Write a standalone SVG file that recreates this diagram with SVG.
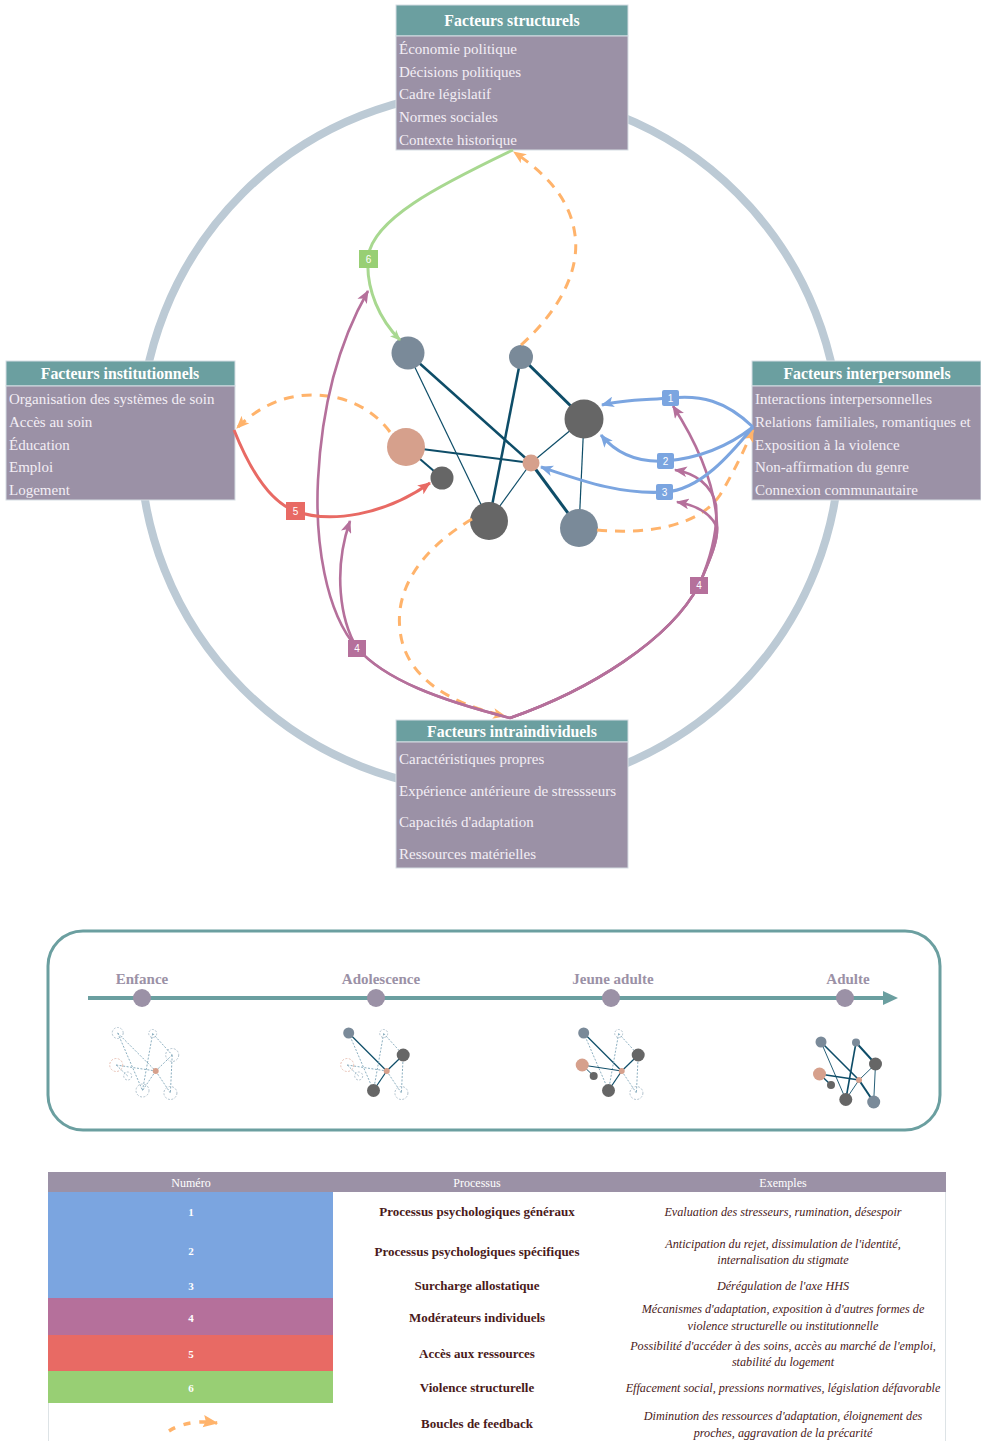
<svg xmlns="http://www.w3.org/2000/svg" width="981" height="1441" viewBox="0 0 981 1441">
<defs>
<style>
.hdr{fill:#6b9fa0;stroke:#d5dde3;stroke-width:1}
.body{fill:#9b91a6;stroke:#d5dde3;stroke-width:1}
.ht{font-family:"Liberation Serif",serif;font-weight:bold;font-size:15.8px;fill:#ffffff;text-anchor:middle}
.it{font-family:"Liberation Serif",serif;font-size:15px;fill:#f3eef5}
.e{stroke:#0e4d68;fill:none}
.slate{fill:#7a8a99}
.dark{fill:#666666}
.salmon{fill:#d6a08c}
.blue{stroke:#7ba5e0;stroke-width:3;fill:none}
.purple{stroke:#b5709b;stroke-width:2.6;fill:none}
.red{stroke:#e86a64;stroke-width:3;fill:none}
.green{stroke:#a8d890;stroke-width:3;fill:none}
.fb{stroke:#ffb36b;stroke-width:3;fill:none;stroke-dasharray:10,8}
.lbl{font-family:"Liberation Sans",sans-serif;font-size:10px;fill:#ffffff;text-anchor:middle}
.stage{font-family:"Liberation Serif",serif;font-weight:bold;font-size:15px;fill:#9b91a6;text-anchor:middle}
.de{stroke:#6f9ab0;stroke-width:0.8;stroke-dasharray:2,1.5;fill:none}
.se{stroke:#0e4d68;fill:none}
.dn{fill:none;stroke:#9fb4c2;stroke-width:0.8;stroke-dasharray:2,1.5}
.dns{fill:none;stroke:#e2b3a3;stroke-width:0.8;stroke-dasharray:2,1.5}
.th{font-family:"Liberation Serif",serif;font-size:12px;fill:#ffffff;text-anchor:middle}
.num{font-family:"Liberation Serif",serif;font-weight:bold;font-size:11px;fill:#ffffff;text-anchor:middle}
.proc{font-family:"Liberation Serif",serif;font-weight:bold;font-size:13px;fill:#4a1a1a;text-anchor:middle}
.ex{font-family:"Liberation Serif",serif;font-style:italic;font-size:12.2px;fill:#4a1a1a;text-anchor:middle}
</style>
<marker id="mBlue" viewBox="0 0 12 10" refX="11" refY="5" markerWidth="13" markerHeight="11" markerUnits="userSpaceOnUse" orient="auto"><path d="M0,0 L12,5 L0,10 L3,5 z" fill="#7ba5e0"/></marker>
<marker id="mPurple" viewBox="0 0 12 10" refX="11" refY="5" markerWidth="13" markerHeight="11" markerUnits="userSpaceOnUse" orient="auto"><path d="M0,0 L12,5 L0,10 L3,5 z" fill="#b5709b"/></marker>
<marker id="mRed" viewBox="0 0 12 10" refX="11" refY="5" markerWidth="13" markerHeight="11" markerUnits="userSpaceOnUse" orient="auto"><path d="M0,0 L12,5 L0,10 L3,5 z" fill="#e86a64"/></marker>
<marker id="mGreen" viewBox="0 0 12 10" refX="11" refY="5" markerWidth="11" markerHeight="9" markerUnits="userSpaceOnUse" orient="auto"><path d="M0,0 L12,5 L0,10 L3,5 z" fill="#a8d890"/></marker>
<marker id="mOrange" viewBox="0 0 12 10" refX="11" refY="5" markerWidth="13" markerHeight="11" markerUnits="userSpaceOnUse" orient="auto"><path d="M0,0 L12,5 L0,10 L3,5 z" fill="#ffb36b"/></marker>
<marker id="mOrangeBig" viewBox="0 0 12 10" refX="11" refY="5" markerWidth="15" markerHeight="14" markerUnits="userSpaceOnUse" orient="auto"><path d="M0,0 L12,5 L0,10 L2,5 z" fill="#ffb36b"/></marker>
</defs>
<rect width="981" height="1441" fill="#ffffff"/>

<!-- big circle -->
<circle id="ring" cx="490" cy="441" r="350" fill="none" stroke="#bccad5" stroke-width="8"/>

<!-- network edges -->
<g id="network-edges">
<line class="e" x1="408" y1="353" x2="531" y2="463" stroke-width="2.5"/>
<line class="e" x1="408" y1="353" x2="489" y2="521" stroke-width="1.2"/>
<line class="e" x1="521" y1="357" x2="489" y2="521" stroke-width="2.5"/>
<line class="e" x1="521" y1="357" x2="584" y2="419" stroke-width="3"/>
<line class="e" x1="584" y1="419" x2="531" y2="463" stroke-width="1.2"/>
<line class="e" x1="584" y1="419" x2="579" y2="528" stroke-width="1.2"/>
<line class="e" x1="406" y1="447" x2="531" y2="463" stroke-width="2"/>
<line class="e" x1="406" y1="447" x2="442" y2="478" stroke-width="2"/>
<line class="e" x1="531" y1="463" x2="489" y2="521" stroke-width="1.2"/>
<line class="e" x1="531" y1="463" x2="579" y2="528" stroke-width="3"/>
</g>
<g id="network-nodes">
<circle id="n1" class="slate" cx="408" cy="353" r="16.5"/>
<circle id="n2" class="slate" cx="521" cy="357" r="12"/>
<circle id="n3" class="dark" cx="584" cy="419" r="19.5"/>
<circle id="n4" class="salmon" cx="406" cy="447" r="19"/>
<circle id="n5" class="dark" cx="442" cy="478" r="11.5"/>
<circle id="n6" class="salmon" cx="531" cy="463" r="8.5"/>
<circle id="n7" class="dark" cx="489" cy="521" r="19"/>
<circle id="n8" class="slate" cx="579" cy="528" r="19"/>
</g>

<!-- factor boxes -->
<g id="box-structurels">
<rect class="hdr" x="396" y="5" width="232" height="31"/>
<rect class="body" x="396" y="36" width="232" height="114"/>
<text class="ht" x="512" y="26">Facteurs structurels</text>
<text class="it" x="399" y="54">Économie politique</text>
<text class="it" x="399" y="77">Décisions politiques</text>
<text class="it" x="399" y="99">Cadre législatif</text>
<text class="it" x="399" y="122">Normes sociales</text>
<text class="it" x="399" y="145">Contexte historique</text>
</g>
<g id="box-institutionnels">
<rect class="hdr" x="6" y="361" width="229" height="25"/>
<rect class="body" x="6" y="386" width="229" height="114"/>
<text class="ht" x="120" y="379">Facteurs institutionnels</text>
<text class="it" x="9" y="404">Organisation des systèmes de soin</text>
<text class="it" x="9" y="427">Accès au soin</text>
<text class="it" x="9" y="450">Éducation</text>
<text class="it" x="9" y="472">Emploi</text>
<text class="it" x="9" y="495">Logement</text>
</g>
<g id="box-interpersonnels">
<rect class="hdr" x="752" y="361" width="229" height="25"/>
<rect class="body" x="752" y="386" width="229" height="114"/>
<text class="ht" x="867" y="379">Facteurs interpersonnels</text>
<text class="it" x="755" y="404">Interactions interpersonnelles</text>
<text class="it" x="755" y="427">Relations familiales, romantiques et</text>
<text class="it" x="755" y="450">Exposition à la violence</text>
<text class="it" x="755" y="472">Non-affirmation du genre</text>
<text class="it" x="755" y="495">Connexion communautaire</text>
</g>
<g id="box-intraindividuels">
<rect class="hdr" x="396" y="720" width="232" height="22"/>
<rect class="body" x="396" y="742" width="232" height="126"/>
<text class="ht" x="512" y="737">Facteurs intraindividuels</text>
<text class="it" x="399" y="764">Caractéristiques propres</text>
<text class="it" x="399" y="796">Expérience antérieure de stressseurs</text>
<text class="it" x="399" y="827">Capacités d'adaptation</text>
<text class="it" x="399" y="859">Ressources matérielles</text>
</g>

<!-- connectors -->
<g id="connectors">
<path class="fb" d="M521,345 C560,310 580,270 575,235 C570,195 540,170 514,152" marker-end="url(#mOrange)"/>
<path class="fb" d="M390,432 C372,408 345,395 312,395 C280,395 255,410 237,428" marker-end="url(#mOrange)"/>
<path class="fb" d="M472,519 C420,550 395,590 400,630 C405,680 455,705 505,716" marker-end="url(#mOrange)"/>
<path class="fb" d="M597,530 C650,535 700,525 720,495 C735,470 745,448 753,430" marker-end="url(#mOrange)"/>

<path class="green" d="M513,150 C440,185 370,220 368,259 C366,290 380,320 400,340" marker-end="url(#mGreen)"/>

<path class="purple" d="M510,718 C440,700 385,680 357,648 C325,612 315,540 318,480 C322,400 340,340 368,291" marker-end="url(#mPurple)"/>
<path class="purple" d="M510,718 C440,700 385,680 357,648 C340,620 333,570 350,521" marker-end="url(#mPurple)"/>
<path class="purple" d="M510,718 C590,690 670,640 699,585 C712,555 718,540 717,525 C715,480 695,440 673,406" marker-end="url(#mPurple)"/>
<path class="purple" d="M510,718 C590,690 670,640 699,585 C712,555 718,530 716,505 C712,485 695,473 675,470" marker-end="url(#mPurple)"/>
<path class="purple" d="M510,718 C590,690 670,640 699,585 C712,555 718,540 717,527 C710,512 695,505 677,502" marker-end="url(#mPurple)"/>

<path class="red" d="M234,430 C250,470 270,502 295,511 C330,524 385,515 430,483" marker-end="url(#mRed)"/>

<path class="blue" d="M753,427 C725,400 700,395 671,398 C645,400 620,400 602,405" marker-end="url(#mBlue)"/>
<path class="blue" d="M753,427 C730,445 700,458 666,461 C635,463 615,452 601,435" marker-end="url(#mBlue)"/>
<path class="blue" d="M753,427 C730,455 700,490 665,492 C620,495 580,480 541,467" marker-end="url(#mBlue)"/>

<rect x="662" y="390" width="17" height="16" rx="2" fill="#7ba5e0"/><text class="lbl" x="670.5" y="402">1</text>
<rect x="657" y="453" width="17" height="16" rx="2" fill="#7ba5e0"/><text class="lbl" x="665.5" y="465">2</text>
<rect x="656" y="484" width="17" height="16" rx="2" fill="#7ba5e0"/><text class="lbl" x="664.5" y="496">3</text>
<rect x="690" y="577" width="18" height="17" fill="#b5709b"/><text class="lbl" x="699" y="589">4</text>
<rect x="348" y="640" width="18" height="17" fill="#b5709b"/><text class="lbl" x="357" y="652">4</text>
<rect x="286" y="502" width="19" height="18" fill="#e86a64"/><text class="lbl" x="295.5" y="515">5</text>
<rect x="359" y="250" width="19" height="18" fill="#98cf74"/><text class="lbl" x="368.5" y="263">6</text>
</g>

<!-- timeline -->
<g id="timeline">
<rect x="48" y="931" width="892" height="199" rx="35" fill="#ffffff" stroke="#6b9fa0" stroke-width="3"/>
<line x1="88" y1="998" x2="885" y2="998" stroke="#6b9fa0" stroke-width="4"/>
<polygon points="883,991 898,998 883,1005" fill="#6b9fa0"/>
<circle cx="142" cy="998" r="9" fill="#9b91a6"/>
<circle cx="376" cy="998" r="9" fill="#9b91a6"/>
<circle cx="611" cy="998" r="9" fill="#9b91a6"/>
<circle cx="845" cy="998" r="9" fill="#9b91a6"/>
<text class="stage" x="142" y="984">Enfance</text>
<text class="stage" x="381" y="984">Adolescence</text>
<text class="stage" x="613" y="984">Jeune adulte</text>
<text class="stage" x="848" y="984">Adulte</text>
</g>

<g id="stage-enfance" transform="translate(155.7,1071)">
<line class="de" x1="-38" y1="-38" x2="0" y2="0"/>
<line class="de" x1="-38" y1="-38" x2="-13.2" y2="19.5"/>
<line class="de" x1="-3" y1="-37.5" x2="-13.2" y2="19.5"/>
<line class="de" x1="-3" y1="-37.5" x2="16.5" y2="-16"/>
<line class="de" x1="16.5" y1="-16" x2="0" y2="0"/>
<line class="de" x1="16.5" y1="-16" x2="14.7" y2="22"/>
<line class="de" x1="-39.5" y1="-6" x2="0" y2="0"/>
<line class="de" x1="-39.5" y1="-6" x2="-28" y2="5"/>
<line class="de" x1="0" y1="0" x2="-13.2" y2="19.5"/>
<line class="de" x1="0" y1="0" x2="14.7" y2="22"/>
<circle class="dn" cx="-38" cy="-38" r="5.5" fill="#fff"/>
<circle class="dn" cx="-3" cy="-37.5" r="4"/>
<circle class="dn" cx="16.5" cy="-16" r="6.5"/>
<circle class="dns" cx="-39.5" cy="-6" r="6.5"/>
<circle class="dn" cx="-28" cy="5" r="4"/>
<circle class="dn" cx="-13.2" cy="19.5" r="6.5"/>
<circle class="dn" cx="14.7" cy="22" r="6.5"/>
<circle class="salmon" cx="0" cy="0" r="3"/>
</g>

<g id="stage-adolescence" transform="translate(386.7,1071)">
<line class="se" x1="-38" y1="-38" x2="0" y2="0" stroke-width="1.2"/>
<line class="de" x1="-38" y1="-38" x2="-13.2" y2="19.5"/>
<line class="de" x1="-3" y1="-37.5" x2="-13.2" y2="19.5"/>
<line class="de" x1="-3" y1="-37.5" x2="16.5" y2="-16"/>
<line class="se" x1="16.5" y1="-16" x2="0" y2="0" stroke-width="1.2"/>
<line class="de" x1="16.5" y1="-16" x2="14.7" y2="22"/>
<line class="de" x1="-39.5" y1="-6" x2="0" y2="0"/>
<line class="de" x1="-39.5" y1="-6" x2="-28" y2="5"/>
<line class="se" x1="0" y1="0" x2="-13.2" y2="19.5" stroke-width="1.2"/>
<line class="de" x1="0" y1="0" x2="14.7" y2="22"/>
<circle class="slate" cx="-38" cy="-38" r="5.5"/>
<circle class="dn" cx="-3" cy="-37.5" r="4"/>
<circle class="dark" cx="16.5" cy="-16" r="6.5"/>
<circle class="dns" cx="-39.5" cy="-6" r="6.5"/>
<circle class="dn" cx="-28" cy="5" r="4"/>
<circle class="dark" cx="-13.2" cy="19.5" r="6.5"/>
<circle class="dn" cx="14.7" cy="22" r="6.5"/>
<circle class="salmon" cx="0" cy="0" r="3"/>
</g>

<g id="stage-jeune-adulte" transform="translate(621.7,1071)">
<line class="se" x1="-38" y1="-38" x2="0" y2="0" stroke-width="1.2"/>
<line class="de" x1="-38" y1="-38" x2="-13.2" y2="19.5"/>
<line class="de" x1="-3" y1="-37.5" x2="-13.2" y2="19.5"/>
<line class="de" x1="-3" y1="-37.5" x2="16.5" y2="-16"/>
<line class="se" x1="16.5" y1="-16" x2="0" y2="0" stroke-width="1.2"/>
<line class="de" x1="16.5" y1="-16" x2="14.7" y2="22"/>
<line class="se" x1="-39.5" y1="-6" x2="0" y2="0" stroke-width="1"/>
<line class="se" x1="-39.5" y1="-6" x2="-28" y2="5" stroke-width="1"/>
<line class="se" x1="0" y1="0" x2="-13.2" y2="19.5" stroke-width="1.2"/>
<line class="de" x1="0" y1="0" x2="14.7" y2="22"/>
<circle class="slate" cx="-38" cy="-38" r="5.5"/>
<circle class="dn" cx="-3" cy="-37.5" r="4"/>
<circle class="dark" cx="16.5" cy="-16" r="6.5"/>
<circle class="salmon" cx="-39.5" cy="-6" r="6.5"/>
<circle class="dark" cx="-28" cy="5" r="4"/>
<circle class="dark" cx="-13.2" cy="19.5" r="6.5"/>
<circle class="dn" cx="14.7" cy="22" r="6.5"/>
<circle class="salmon" cx="0" cy="0" r="3"/>
</g>

<g id="stage-adulte" transform="translate(859,1080)">
<line class="se" x1="-38" y1="-38" x2="0" y2="0" stroke-width="1.6"/>
<line class="se" x1="-38" y1="-38" x2="-13.2" y2="19.5" stroke-width="0.9"/>
<line class="se" x1="-3" y1="-37.5" x2="-13.2" y2="19.5" stroke-width="1.6"/>
<line class="se" x1="-3" y1="-37.5" x2="16.5" y2="-16" stroke-width="2"/>
<line class="se" x1="16.5" y1="-16" x2="0" y2="0" stroke-width="0.9"/>
<line class="se" x1="16.5" y1="-16" x2="14.7" y2="22" stroke-width="0.9"/>
<line class="se" x1="-39.5" y1="-6" x2="0" y2="0" stroke-width="1.4"/>
<line class="se" x1="-39.5" y1="-6" x2="-28" y2="5" stroke-width="1.4"/>
<line class="se" x1="0" y1="0" x2="-13.2" y2="19.5" stroke-width="0.9"/>
<line class="se" x1="0" y1="0" x2="14.7" y2="22" stroke-width="2"/>
<circle class="slate" cx="-38" cy="-38" r="5.5"/>
<circle class="slate" cx="-3" cy="-37.5" r="4"/>
<circle class="dark" cx="16.5" cy="-16" r="6.5"/>
<circle class="salmon" cx="-39.5" cy="-6" r="6.5"/>
<circle class="dark" cx="-28" cy="5" r="4"/>
<circle class="dark" cx="-13.2" cy="19.5" r="6.5"/>
<circle class="slate" cx="14.7" cy="22" r="6.5"/>
<circle class="salmon" cx="0" cy="0" r="3"/>
</g>

<!-- legend table -->
<g id="legend-table">
<rect x="48" y="1172" width="898" height="20" fill="#9b91a6"/>
<text class="th" x="191" y="1187">Numéro</text>
<text class="th" x="477" y="1187">Processus</text>
<text class="th" x="783" y="1187">Exemples</text>
<rect x="48" y="1192" width="285" height="106" fill="#7ba5e0"/>
<rect x="48" y="1298" width="285" height="37" fill="#b5709b"/>
<rect x="48" y="1335" width="285" height="36" fill="#e86a64"/>
<rect x="48" y="1371" width="285" height="32" fill="#98cf74"/>
<line x1="48.5" y1="1403" x2="48.5" y2="1441" stroke="#dde3e6" stroke-width="1"/>
<line x1="945.5" y1="1192" x2="945.5" y2="1441" stroke="#dde3e6" stroke-width="1"/>
<text class="num" x="191" y="1216">1</text>
<text class="num" x="191" y="1255">2</text>
<text class="num" x="191" y="1290">3</text>
<text class="num" x="191" y="1322">4</text>
<text class="num" x="191" y="1358">5</text>
<text class="num" x="191" y="1392">6</text>
<path d="M169,1431 Q188,1419 217,1423" stroke="#ffb36b" stroke-width="3.5" fill="none" stroke-dasharray="7,9" marker-end="url(#mOrangeBig)"/>
<text class="proc" x="477" y="1216">Processus psychologiques généraux</text>
<text class="proc" x="477" y="1256">Processus psychologiques spécifiques</text>
<text class="proc" x="477" y="1290">Surcharge allostatique</text>
<text class="proc" x="477" y="1322">Modérateurs individuels</text>
<text class="proc" x="477" y="1358">Accès aux ressources</text>
<text class="proc" x="477" y="1392">Violence structurelle</text>
<text class="proc" x="477" y="1428">Boucles de feedback</text>
<text class="ex" x="783" y="1216">Evaluation des stresseurs, rumination, désespoir</text>
<text class="ex" x="783" y="1248">Anticipation du rejet, dissimulation de l'identité,</text>
<text class="ex" x="783" y="1264">internalisation du stigmate</text>
<text class="ex" x="783" y="1290">Dérégulation de l'axe HHS</text>
<text class="ex" x="783" y="1313">Mécanismes d'adaptation, exposition à d'autres formes de</text>
<text class="ex" x="783" y="1330">violence structurelle ou institutionnelle</text>
<text class="ex" x="783" y="1350">Possibilité d'accéder à des soins, accès au marché de l'emploi,</text>
<text class="ex" x="783" y="1366">stabilité du logement</text>
<text class="ex" x="783" y="1392">Effacement social, pressions normatives, législation défavorable</text>
<text class="ex" x="783" y="1420">Diminution des ressources d'adaptation, éloignement des</text>
<text class="ex" x="783" y="1437">proches, aggravation de la précarité</text>
</g>
</svg>
